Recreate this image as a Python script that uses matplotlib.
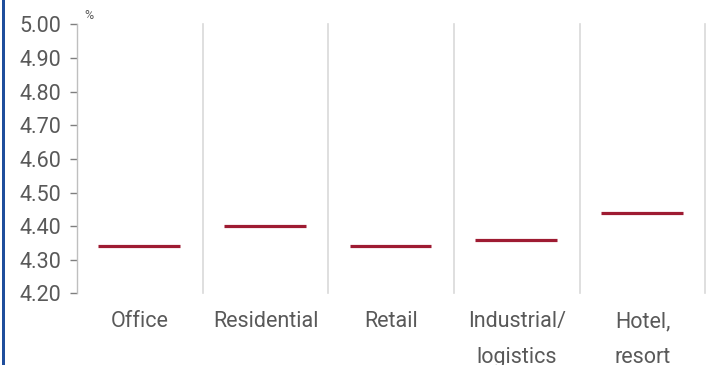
import matplotlib
matplotlib.use('Agg')
from matplotlib import pyplot as plt
from matplotlib.patches import Rectangle

# yields by sector, %
categories = ['Office', 'Residential', 'Retail', 'Industrial/\nlogistics', 'Hotel,\nresort']
values = [4.34, 4.40, 4.34, 4.36, 4.44]
y_ticks = [4.20, 4.30, 4.40, 4.50, 4.60, 4.70, 4.80, 4.90, 5.00]

plt.rcParams['font.family'] = ['Roboto', 'DejaVu Sans']
text_grey = '#595959'
line_red = '#9e1b32'
sep_grey = '#d9d9d9'

fig = plt.figure(figsize=(7.09, 3.65), dpi=100)
ax = fig.add_axes([0.1086, 0.1964, 0.8864, 0.7365])

# one horizontal marker per sector
for i, v in enumerate(values):
    ax.hlines(v, i + 0.17, i + 0.82, color=line_red, lw=2.3)

# separators between sectors
for i in range(1, len(categories) + 1):
    ax.axvline(i, color=sep_grey, lw=1.2, clip_on=False)

ax.set_xlim(0, len(categories))
ax.set_ylim(4.20, 5.00)
ax.set_yticks(y_ticks)
ax.set_yticklabels([f'{t:.2f}' for t in y_ticks])
ax.set_xticks([i + 0.5 for i in range(len(categories))])
ax.set_xticklabels(categories, linespacing=1.9, va='top')

ax.tick_params(axis='y', length=5, width=1, color='#7f7f7f', labelsize=15.5,
               labelcolor=text_grey, pad=6)
ax.tick_params(axis='x', length=0, labelsize=15.5, labelcolor=text_grey, pad=13)

for s in ['top', 'right', 'bottom']:
    ax.spines[s].set_visible(False)
ax.spines['left'].set_color('#bfbfbf')
ax.spines['left'].set_linewidth(1)

ax.text(0.012, 1.01, '%', transform=ax.transAxes, fontsize=9, color=text_grey,
        ha='left', va='bottom')

# blue rule down the left edge
fig.add_artist(Rectangle((2 / 709, 0), 3 / 709, 1, transform=fig.transFigure,
                         color='#1f4e9c', lw=0))

fig.savefig('out.png', dpi=100)
